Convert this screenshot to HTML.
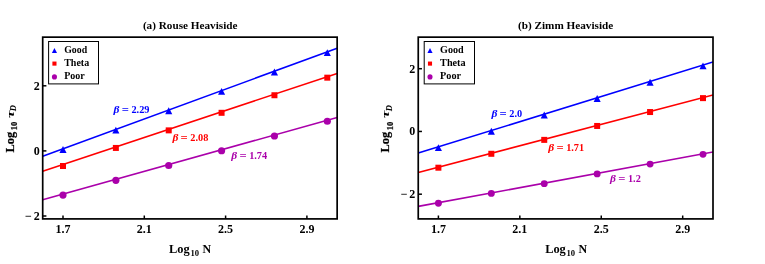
<!DOCTYPE html>
<html><head><meta charset="utf-8"><title>plot</title>
<style>
html,body{margin:0;padding:0;background:#fff;}
svg{display:block;will-change:transform;}
text{font-family:"Liberation Serif",serif;font-weight:bold;fill:#000;}
.tk{font-size:12.0px;}
.ti{font-size:10.3px;}
.ax{font-size:12.4px;}
.sb{font-size:8.6px;}
.sd{font-size:8.5px;}
.lg{font-size:10.25px;}
.bt{font-size:10.3px;}
</style></head><body>
<svg width="765" height="264" viewBox="0 0 765 264">
<rect width="765" height="264" fill="#fff"/>
<clipPath id="c42"><rect x="42.7" y="37.15" width="294.45" height="181.75"/></clipPath>
<line x1="42.7" y1="156.15" x2="337.15" y2="48.25" stroke="#0000ff" stroke-width="1.6" clip-path="url(#c42)"/>
<path d="M59.45 152.96 L66.55 152.96 L63.00 146.01 Z" fill="#0000ff"/>
<path d="M112.31 133.59 L119.41 133.59 L115.86 126.64 Z" fill="#0000ff"/>
<path d="M165.17 114.22 L172.27 114.22 L168.72 107.27 Z" fill="#0000ff"/>
<path d="M218.03 94.85 L225.13 94.85 L221.58 87.90 Z" fill="#0000ff"/>
<path d="M270.89 75.48 L277.99 75.48 L274.44 68.53 Z" fill="#0000ff"/>
<path d="M323.75 56.11 L330.85 56.11 L327.30 49.16 Z" fill="#0000ff"/>
<line x1="42.7" y1="171.25" x2="337.15" y2="73.4" stroke="#ff0000" stroke-width="1.6" clip-path="url(#c42)"/>
<rect x="60.00" y="163.00" width="6.0" height="6.0" fill="#ff0000"/>
<rect x="112.86" y="144.94" width="6.0" height="6.0" fill="#ff0000"/>
<rect x="165.72" y="127.37" width="6.0" height="6.0" fill="#ff0000"/>
<rect x="218.58" y="109.81" width="6.0" height="6.0" fill="#ff0000"/>
<rect x="271.44" y="92.24" width="6.0" height="6.0" fill="#ff0000"/>
<rect x="324.30" y="74.67" width="6.0" height="6.0" fill="#ff0000"/>
<line x1="42.7" y1="199.7" x2="337.15" y2="117.5" stroke="#aa00aa" stroke-width="1.6" clip-path="url(#c42)"/>
<circle cx="63.00" cy="195.03" r="3.6" fill="#aa00aa"/>
<circle cx="115.86" cy="180.28" r="3.6" fill="#aa00aa"/>
<circle cx="168.72" cy="165.52" r="3.6" fill="#aa00aa"/>
<circle cx="221.58" cy="150.76" r="3.6" fill="#aa00aa"/>
<circle cx="274.44" cy="136.01" r="3.6" fill="#aa00aa"/>
<circle cx="327.30" cy="121.25" r="3.6" fill="#aa00aa"/>
<rect x="42.7" y="37.15" width="294.45" height="181.75" fill="none" stroke="#000" stroke-width="1.7"/>
<line x1="63.0" y1="218.9" x2="63.0" y2="215.5" stroke="#000" stroke-width="1.5"/>
<text x="63.0" y="233.0" class="tk" text-anchor="middle">1.7</text>
<line x1="144.3" y1="218.9" x2="144.3" y2="215.5" stroke="#000" stroke-width="1.5"/>
<text x="144.3" y="233.0" class="tk" text-anchor="middle">2.1</text>
<line x1="225.6" y1="218.9" x2="225.6" y2="215.5" stroke="#000" stroke-width="1.5"/>
<text x="225.6" y="233.0" class="tk" text-anchor="middle">2.5</text>
<line x1="306.9" y1="218.9" x2="306.9" y2="215.5" stroke="#000" stroke-width="1.5"/>
<text x="306.9" y="233.0" class="tk" text-anchor="middle">2.9</text>
<line x1="42.7" y1="85.80000000000001" x2="46.400000000000006" y2="85.80000000000001" stroke="#000" stroke-width="1.5"/>
<text x="39.7" y="89.80000000000001" class="tk" text-anchor="end">2</text>
<line x1="42.7" y1="150.9" x2="46.400000000000006" y2="150.9" stroke="#000" stroke-width="1.5"/>
<text x="39.7" y="154.9" class="tk" text-anchor="end">0</text>
<line x1="42.7" y1="216.0" x2="46.400000000000006" y2="216.0" stroke="#000" stroke-width="1.5"/>
<text x="25.1" y="220.0" class="tk" textLength="14.6" lengthAdjust="spacing">−2</text>
<text x="142.9" y="29.1" class="ti" textLength="94.6" lengthAdjust="spacingAndGlyphs">(a) Rouse Heaviside</text>
<text x="169.1" y="253.0" class="ax">Log</text><text x="190.5" y="256.4" class="sb">10</text><text x="202.5" y="253.0" class="ax" textLength="8.6" lengthAdjust="spacingAndGlyphs">N</text>
<g transform="translate(14.1,152.4) rotate(-90)" style="stroke:#000;stroke-width:0.22px"><text x="0" y="0" class="ax">Log</text><text x="22.1" y="3.2" class="sb">10</text><text x="34.3" y="-0.3" class="ax" font-style="italic" style="font-size:11.2px;stroke:none" textLength="7.4" lengthAdjust="spacingAndGlyphs">τ</text><text x="41.2" y="2.3" class="sd" font-style="italic" style="stroke-width:0.1px">D</text></g>
<rect x="48.6" y="41.5" width="49.9" height="42.400000000000006" fill="#fff" stroke="#000" stroke-width="1.0"/>
<path d="M51.900000000000006 53.099999999999994 L57.0 53.099999999999994 L54.45 48.0 Z" fill="#0000ff"/>
<text x="64.2" y="53.25" class="lg" textLength="23.0" lengthAdjust="spacingAndGlyphs">Good</text>
<rect x="52.400000000000006" y="61.550000000000004" width="4.1" height="4.1" fill="#ff0000"/>
<text x="64.2" y="66.1" class="lg" textLength="25.0" lengthAdjust="spacingAndGlyphs">Theta</text>
<circle cx="54.45" cy="76.9" r="2.55" fill="#aa00aa"/>
<text x="64.2" y="78.80000000000001" class="lg" textLength="20.6" lengthAdjust="spacingAndGlyphs">Poor</text>
<g style="fill:#0000ff"><text x="113.50" y="113.2" class="bt" style="fill:#0000ff;font-size:10.4px" font-style="italic" textLength="5.9" lengthAdjust="spacingAndGlyphs">β</text><text x="121.70" y="113.2" class="bt" style="fill:#0000ff" textLength="7.2" lengthAdjust="spacingAndGlyphs">=</text><text x="131.45" y="113.2" class="bt" style="fill:#0000ff">2.29</text></g>
<g style="fill:#ff0000"><text x="172.40" y="140.8" class="bt" style="fill:#ff0000;font-size:10.4px" font-style="italic" textLength="5.9" lengthAdjust="spacingAndGlyphs">β</text><text x="180.60" y="140.8" class="bt" style="fill:#ff0000" textLength="7.2" lengthAdjust="spacingAndGlyphs">=</text><text x="190.35" y="140.8" class="bt" style="fill:#ff0000">2.08</text></g>
<g style="fill:#aa00aa"><text x="231.20" y="158.7" class="bt" style="fill:#aa00aa;font-size:10.4px" font-style="italic" textLength="5.9" lengthAdjust="spacingAndGlyphs">β</text><text x="239.40" y="158.7" class="bt" style="fill:#aa00aa" textLength="7.2" lengthAdjust="spacingAndGlyphs">=</text><text x="249.15" y="158.7" class="bt" style="fill:#aa00aa">1.74</text></g>
<clipPath id="c418"><rect x="418.25" y="37.15" width="294.75" height="181.75"/></clipPath>
<line x1="418.25" y1="153.1" x2="713.0" y2="62.0" stroke="#0000ff" stroke-width="1.6" clip-path="url(#c418)"/>
<path d="M434.85 151.12 L441.95 151.12 L438.40 144.17 Z" fill="#0000ff"/>
<path d="M487.77 134.77 L494.87 134.77 L491.32 127.82 Z" fill="#0000ff"/>
<path d="M540.69 118.41 L547.79 118.41 L544.24 111.46 Z" fill="#0000ff"/>
<path d="M593.61 102.05 L600.71 102.05 L597.16 95.10 Z" fill="#0000ff"/>
<path d="M646.53 85.70 L653.63 85.70 L650.08 78.75 Z" fill="#0000ff"/>
<path d="M699.45 69.34 L706.55 69.34 L703.00 62.39 Z" fill="#0000ff"/>
<line x1="418.25" y1="172.5" x2="713.0" y2="95" stroke="#ff0000" stroke-width="1.6" clip-path="url(#c418)"/>
<rect x="435.40" y="164.70" width="6.0" height="6.0" fill="#ff0000"/>
<rect x="488.32" y="150.79" width="6.0" height="6.0" fill="#ff0000"/>
<rect x="541.24" y="136.87" width="6.0" height="6.0" fill="#ff0000"/>
<rect x="594.16" y="122.96" width="6.0" height="6.0" fill="#ff0000"/>
<rect x="647.08" y="109.04" width="6.0" height="6.0" fill="#ff0000"/>
<rect x="700.00" y="95.13" width="6.0" height="6.0" fill="#ff0000"/>
<line x1="418.25" y1="206.4" x2="713.0" y2="152" stroke="#aa00aa" stroke-width="1.6" clip-path="url(#c418)"/>
<circle cx="438.40" cy="203.18" r="3.45" fill="#aa00aa"/>
<circle cx="491.32" cy="193.41" r="3.45" fill="#aa00aa"/>
<circle cx="544.24" cy="183.65" r="3.45" fill="#aa00aa"/>
<circle cx="597.16" cy="173.88" r="3.45" fill="#aa00aa"/>
<circle cx="650.08" cy="164.11" r="3.45" fill="#aa00aa"/>
<circle cx="703.00" cy="154.35" r="3.45" fill="#aa00aa"/>
<rect x="418.25" y="37.15" width="294.75" height="181.75" fill="none" stroke="#000" stroke-width="1.7"/>
<line x1="438.4" y1="218.9" x2="438.4" y2="215.5" stroke="#000" stroke-width="1.5"/>
<text x="438.4" y="233.0" class="tk" text-anchor="middle">1.7</text>
<line x1="519.8299999999999" y1="218.9" x2="519.8299999999999" y2="215.5" stroke="#000" stroke-width="1.5"/>
<text x="519.8299999999999" y="233.0" class="tk" text-anchor="middle">2.1</text>
<line x1="601.26" y1="218.9" x2="601.26" y2="215.5" stroke="#000" stroke-width="1.5"/>
<text x="601.26" y="233.0" class="tk" text-anchor="middle">2.5</text>
<line x1="682.69" y1="218.9" x2="682.69" y2="215.5" stroke="#000" stroke-width="1.5"/>
<text x="682.69" y="233.0" class="tk" text-anchor="middle">2.9</text>
<line x1="418.25" y1="68.70999999999998" x2="421.95" y2="68.70999999999998" stroke="#000" stroke-width="1.5"/>
<text x="415.25" y="72.70999999999998" class="tk" text-anchor="end">2</text>
<line x1="418.25" y1="131.45" x2="421.95" y2="131.45" stroke="#000" stroke-width="1.5"/>
<text x="415.25" y="135.45" class="tk" text-anchor="end">0</text>
<line x1="418.25" y1="194.19" x2="421.95" y2="194.19" stroke="#000" stroke-width="1.5"/>
<text x="400.65" y="198.19" class="tk" textLength="14.6" lengthAdjust="spacing">−2</text>
<text x="518.0" y="29.1" class="ti" textLength="95.20000000000005" lengthAdjust="spacingAndGlyphs">(b) Zimm Heaviside</text>
<text x="545.15" y="253.0" class="ax">Log</text><text x="566.55" y="256.4" class="sb">10</text><text x="578.55" y="253.0" class="ax" textLength="8.6" lengthAdjust="spacingAndGlyphs">N</text>
<g transform="translate(389.4,152.4) rotate(-90)" style="stroke:#000;stroke-width:0.22px"><text x="0" y="0" class="ax">Log</text><text x="22.1" y="3.2" class="sb">10</text><text x="34.3" y="-0.3" class="ax" font-style="italic" style="font-size:11.2px;stroke:none" textLength="7.4" lengthAdjust="spacingAndGlyphs">τ</text><text x="41.2" y="2.3" class="sd" font-style="italic" style="stroke-width:0.1px">D</text></g>
<rect x="424.2" y="41.5" width="50.30000000000001" height="42.400000000000006" fill="#fff" stroke="#000" stroke-width="1.0"/>
<path d="M427.45 53.099999999999994 L432.55 53.099999999999994 L430.0 48.0 Z" fill="#0000ff"/>
<text x="440.1" y="53.25" class="lg" textLength="23.6" lengthAdjust="spacingAndGlyphs">Good</text>
<rect x="427.95" y="61.550000000000004" width="4.1" height="4.1" fill="#ff0000"/>
<text x="440.1" y="66.1" class="lg" textLength="25.5" lengthAdjust="spacingAndGlyphs">Theta</text>
<circle cx="430.0" cy="76.9" r="2.55" fill="#aa00aa"/>
<text x="440.1" y="78.80000000000001" class="lg" textLength="21.0" lengthAdjust="spacingAndGlyphs">Poor</text>
<g style="fill:#0000ff"><text x="491.40" y="116.6" class="bt" style="fill:#0000ff;font-size:10.4px" font-style="italic" textLength="5.9" lengthAdjust="spacingAndGlyphs">β</text><text x="499.60" y="116.6" class="bt" style="fill:#0000ff" textLength="7.2" lengthAdjust="spacingAndGlyphs">=</text><text x="509.35" y="116.6" class="bt" style="fill:#0000ff">2.0</text></g>
<g style="fill:#ff0000"><text x="548.20" y="151.3" class="bt" style="fill:#ff0000;font-size:10.4px" font-style="italic" textLength="5.9" lengthAdjust="spacingAndGlyphs">β</text><text x="556.40" y="151.3" class="bt" style="fill:#ff0000" textLength="7.2" lengthAdjust="spacingAndGlyphs">=</text><text x="566.15" y="151.3" class="bt" style="fill:#ff0000">1.71</text></g>
<g style="fill:#aa00aa"><text x="610.00" y="181.7" class="bt" style="fill:#aa00aa;font-size:10.4px" font-style="italic" textLength="5.9" lengthAdjust="spacingAndGlyphs">β</text><text x="618.20" y="181.7" class="bt" style="fill:#aa00aa" textLength="7.2" lengthAdjust="spacingAndGlyphs">=</text><text x="627.95" y="181.7" class="bt" style="fill:#aa00aa">1.2</text></g>
</svg>
</body></html>
